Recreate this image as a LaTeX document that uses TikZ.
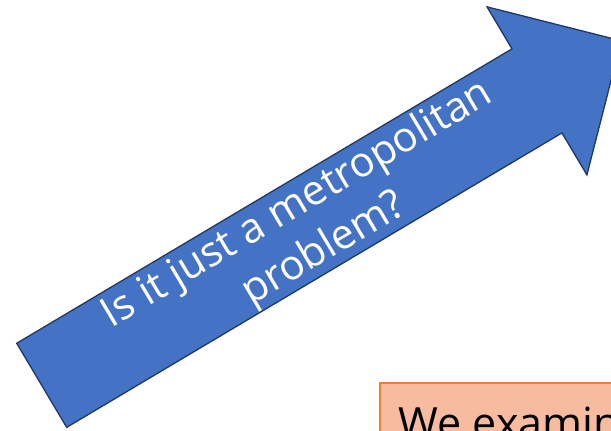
\documentclass[tikz,border=0pt]{standalone}
\usepackage{fontspec}
\setmainfont{Open Sans}
\definecolor{arrowblue}{HTML}{4472C4}
\definecolor{arrowedge}{HTML}{203864}
\definecolor{boxfill}{HTML}{F7BBA0}
\definecolor{boxedge}{HTML}{ED7D31}
\tikzset{
  bigarrow/.style={fill=arrowblue, draw=arrowedge, line width=1.3pt, line join=miter},
  arrowtext/.style={text=white, inner sep=0pt, anchor=base, transform shape,
    font=\fontsize{41.5}{50}\selectfont},
  notebox/.style={fill=boxfill, draw=boxedge, line width=1.5pt},
  notetext/.style={text=black, inner sep=0pt, anchor=base west,
    font=\fontsize{43}{52}\selectfont}
}
\begin{document}
\begin{tikzpicture}[x=1pt,y=1pt]
\clip (0,0) rectangle (611,431);
\fill[white] (0,0) rectangle (611,431);
\begin{scope}[shift={(41.7,45.7)}, rotate=30.73]
  \draw[bigarrow] (0,48.9) -- (576.2,48.9) -- (576.2,97.75) -- (674.2,0)
    -- (576.2,-97.75) -- (576.2,-48.9) -- (0,-48.9) -- cycle;
  \node[arrowtext] (line1) at (312.3,13.4) {Is it just a metropolitan};
  \node[arrowtext] (line2) at (312.3,-38.6) {problem?};
\end{scope}
\draw[notebox] (380,-20) rectangle (660,48);
\node[notetext] (note) at (398.5,-7.7) {We examin};
\end{tikzpicture}
\end{document}
